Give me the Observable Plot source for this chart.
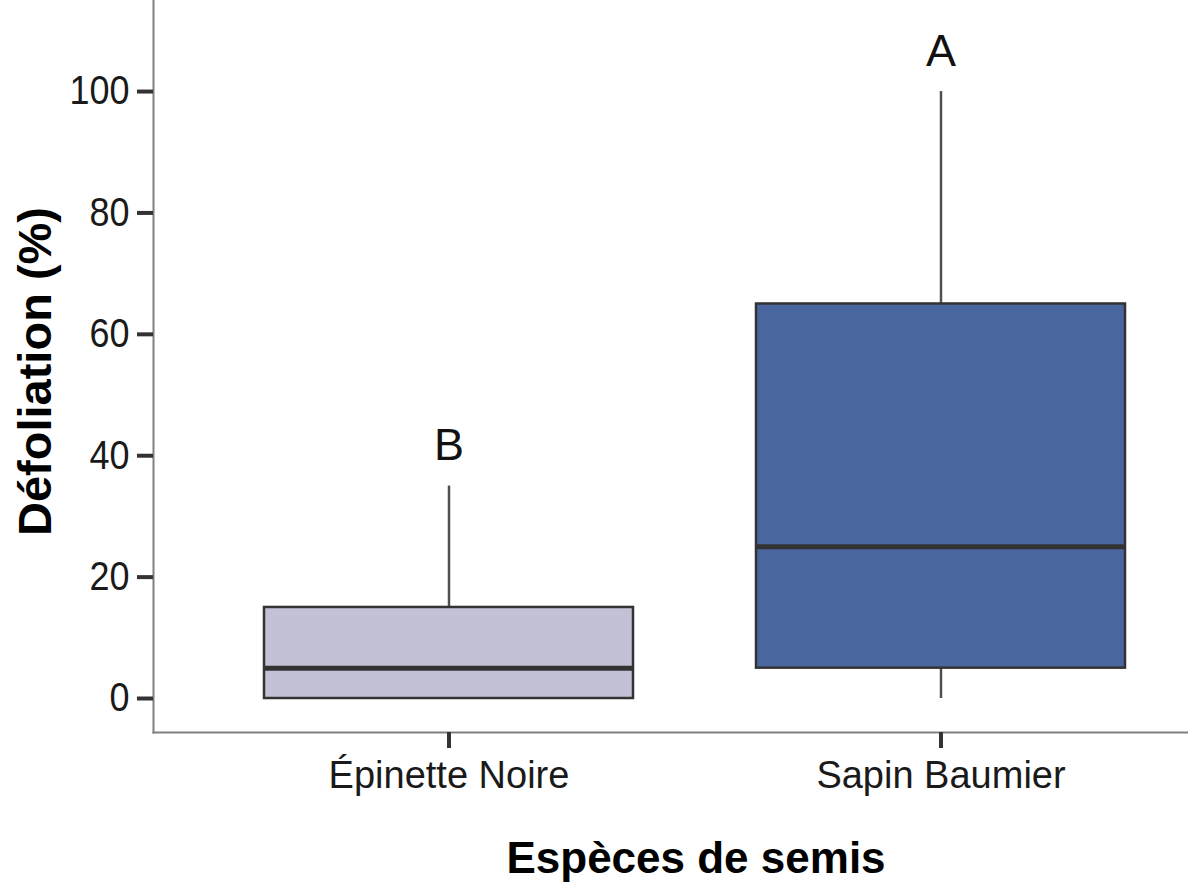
<!DOCTYPE html>
<html>
<head>
<meta charset="utf-8">
<script src="https://cdn.jsdelivr.net/npm/d3@7"></script>
<script src="https://cdn.jsdelivr.net/npm/@observablehq/plot@0.6"></script>
<style>
  html, body { margin: 0; padding: 0; background: #ffffff; }
  #chart { width: 1188px; height: 888px; }
</style>
</head>
<body>
<div id="chart"></div>
<script>
// ---- data ----
const species = ["Épinette Noire", "Sapin Baumier"];
const whiskerLow = [0, 0];
const q1 = [0, 5];
const median = [5, 25];
const q3 = [15, 65];
const whiskerHigh = [35, 100];
const letters = ["B", "A"];
const fills = ["#c2c1d5", "#4a669e"];
const yTicks = [0, 20, 40, 60, 80, 100];
const yTitle = "Défoliation (%)";
const xTitle = "Espèces de semis";

const rows = species.map((s, i) => ({
  species: s, lo: whiskerLow[i], q1: q1[i], med: median[i], q3: q3[i],
  hi: whiskerHigh[i], letter: letters[i], fill: fills[i]
}));

const font = "'Liberation Sans', Arial, Helvetica, sans-serif";

const chart = Plot.plot({
  width: 1188,
  height: 888,
  marginLeft: 153,
  marginRight: 0,
  marginTop: 0,
  marginBottom: 156,
  style: { fontFamily: font, background: "#ffffff", color: "#1a1a1a" },
  x: { type: "band", domain: species, paddingInner: 0.25, paddingOuter: 0.175, align: 0.639, axis: null },
  y: { domain: [-5.6, 115], axis: null },
  marks: [
    // whiskers
    Plot.ruleX(rows, { x: "species", y1: "lo", y2: "q1", stroke: "#505050", strokeWidth: 2.5 }),
    Plot.ruleX(rows, { x: "species", y1: "q3", y2: "hi", stroke: "#505050", strokeWidth: 2.5 }),
    // boxes
    Plot.barY(rows, { x: "species", y1: "q1", y2: "q3", fill: d => d.fill, stroke: "#333333", strokeWidth: 2.5 }),
    // medians
    Plot.tickY(rows, { x: "species", y: "med", stroke: "#333333", strokeWidth: 5 }),
    // significance letters
    Plot.text(rows, { x: "species", y: "hi", text: "letter", dy: -40, lineAnchor: "middle", fontSize: 45, fill: "#111111" }),
    // axis lines
    Plot.frame({ anchor: "left", stroke: "#808080", strokeWidth: 2 }),
    Plot.frame({ anchor: "bottom", stroke: "#808080", strokeWidth: 2 }),
    // axes
    Plot.axisY({ ticks: yTicks, tickSize: 16, tickPadding: 8, strokeWidth: 4, stroke: "#333333", fill: "#1a1a1a", fontSize: 36, label: null, tickFormat: d => String(d) }),
    Plot.axisX({ tickSize: 16, tickPadding: 13, strokeWidth: 4, stroke: "#333333", fill: "#1a1a1a", fontSize: 38, label: null }),
    // axis titles
    Plot.text([yTitle], { frameAnchor: "left", textAnchor: "middle", dx: -118, dy: 5, rotate: -90, lineAnchor: "middle", fontSize: 47, fontWeight: "bold", fill: "#000000" }),
    Plot.text([xTitle], { frameAnchor: "bottom", dx: 25, dy: 126, lineAnchor: "middle", fontSize: 44, fontWeight: "bold", fill: "#000000" })
  ]
});

// slight vertical stretch of y tick labels, as in the source image
d3.select(chart).selectAll('g[aria-label="y-axis tick label"] text').each(function () {
  const t = this.getAttribute("transform") || "";
  this.setAttribute("transform", t + " scale(1,1.12)");
});

document.getElementById("chart").appendChild(chart);
</script>
</body>
</html>
